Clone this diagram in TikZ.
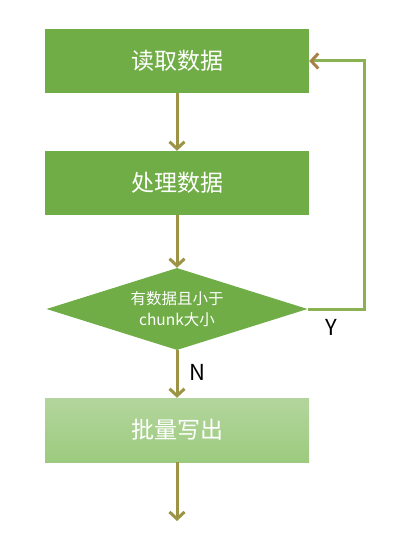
\documentclass[tikz,border=0pt]{standalone}
\usepackage{fontspec}
\setmainfont{Noto Sans CJK SC}
\usetikzlibrary{positioning,arrows.meta,shapes.geometric}
\definecolor{boxgreen}{HTML}{70AD47}
\definecolor{lightgreenA}{HTML}{B3D59D}
\definecolor{lightgreenB}{HTML}{9CCB7E}
\definecolor{arrowolive}{HTML}{9C9444}
\definecolor{loopgreen}{HTML}{8AB152}
\definecolor{tipbrown}{HTML}{A8804A}
\tikzset{
  flowarrow/.style={-{Straight Barb[length=7pt, width=15pt, line width=3pt]}, line width=3pt, draw=arrowolive},
  procbox/.style={fill=boxgreen, minimum width=264pt, minimum height=64pt, inner sep=0pt, text=white, font=\fontsize{23}{27}\selectfont},
  decnode/.style={diamond, fill=boxgreen, aspect=3.18, minimum width=261pt, minimum height=82pt, inner sep=0pt, align=center, text=white, font=\fontsize{15.5}{21}\selectfont},
  relabel/.style={font=\fontsize{22}{26}\selectfont, inner sep=1pt}
}
\begin{document}
\begin{tikzpicture}[x=1pt, y=-1pt]
  \useasboundingbox (0,0) rectangle (408,543);
  \node[procbox] (read) at (177,61) {读取数据};
  \node[procbox] (proc) at (177,183) {处理数据};
  \node[decnode] (check) at (177,309) {有数据且小于\\chunk大小};
  \node[procbox, fill=none, top color=lightgreenA, bottom color=lightgreenB] (write) at (177,430) {批量写出};
  \coordinate (out) at (177,521);
  \draw[flowarrow] (read) -- (proc);
  \draw[flowarrow] (proc) -- (check);
  \draw[flowarrow] (check) -- (write);
  \draw[flowarrow] (write) -- (out);
  \draw[flowarrow, draw=loopgreen, -{Straight Barb[length=7pt, width=15pt, line width=3pt, color=tipbrown]}] (check.east) -- ++(57,0) |- (read.east);
  \node[relabel] (ylab) at (331,327) {Y};
  \node[relabel] (nlab) at (197,372) {N};
\end{tikzpicture}
\end{document}
